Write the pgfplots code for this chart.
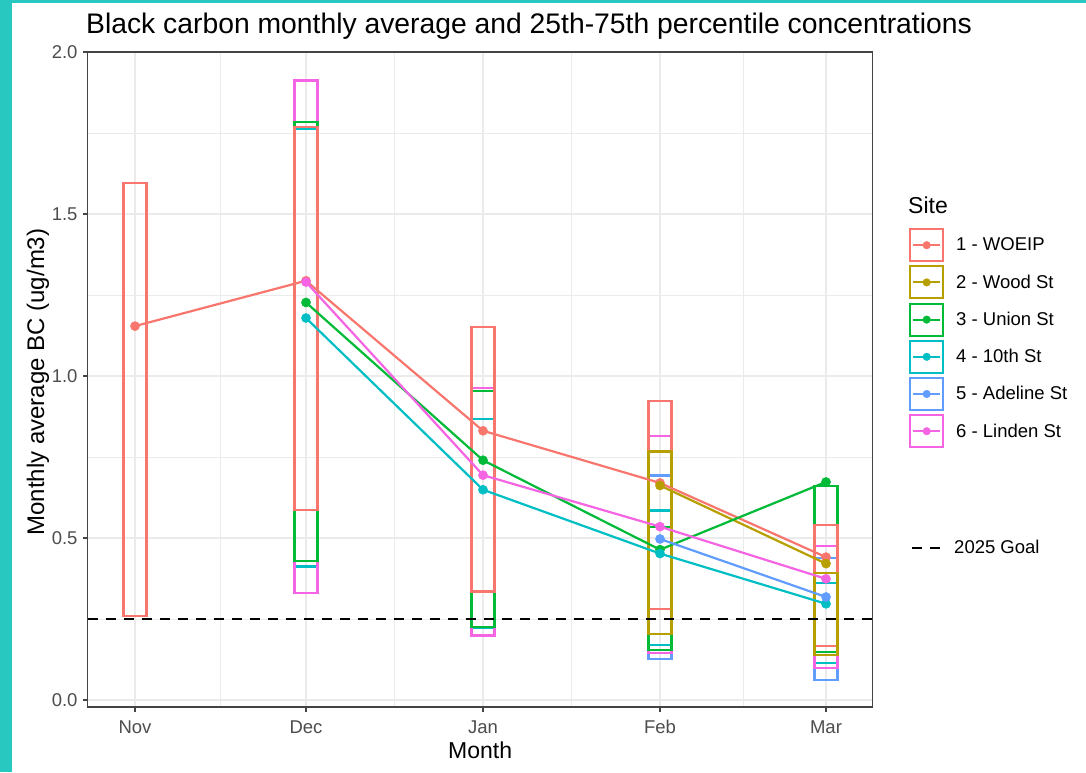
\documentclass[border=0pt]{standalone}
\usepackage{pgfplots}
\pgfplotsset{compat=1.18}
\usepackage{pgfplotstable}
\usepackage{fontspec}
\setmainfont{Liberation Sans}
\definecolor{c1}{HTML}{F8766D}
\definecolor{c2}{HTML}{B79F00}
\definecolor{c3}{HTML}{00BA38}
\definecolor{c4}{HTML}{00BFC4}
\definecolor{c5}{HTML}{619CFF}
\definecolor{c6}{HTML}{F564E3}
\definecolor{teal1}{RGB}{40,200,192}
\definecolor{gridc}{HTML}{EBEBEB}
\definecolor{axc}{HTML}{444444}
\definecolor{tickc}{HTML}{4D4D4D}

% x positions: Nov=0, Dec=171, Jan=348, Feb=525, Mar=691
\pgfplotstableread{
x m lo hi
0   1.154 0.259 1.595
171 1.294 0.587 1.769
348 0.831 0.335 1.151
525 0.670 0.281 0.922
691 0.441 0.166 0.539
}\sone
\pgfplotstableread{
x m lo hi
525 0.662 0.205 0.767
691 0.421 0.140 0.393
}\stwo
\pgfplotstableread{
x m lo hi
171 1.227 0.429 1.785
348 0.740 0.225 0.955
525 0.464 0.155 0.533
691 0.673 0.147 0.660
}\sthree
\pgfplotstableread{
x m lo hi
171 1.179 0.412 1.763
348 0.649 0.222 0.867
525 0.452 0.171 0.585
691 0.297 0.114 0.361
}\sfour
\pgfplotstableread{
x m lo hi
525 0.497 0.127 0.693
691 0.318 0.063 0.438
}\sfive
\pgfplotstableread{
x m lo hi
171 1.290 0.330 1.912
348 0.694 0.199 0.963
525 0.535 0.145 0.816
691 0.374 0.099 0.474
}\ssix

% box from 25th to 75th percentile, 23 units wide around x
\newcommand{\bx}[4]{%
  \pgfmathsetmacro\bxl{#2-11.5}\pgfmathsetmacro\bxr{#2+11.5}%
  \addplot[#1, line width=2.1pt, line cap=rect, forget plot]
    coordinates {(\bxl,#3) (\bxr,#3) (\bxr,#4) (\bxl,#4) (\bxl,#3)};}

\pgfplotsset{
  sitekey/.style={legend image code/.code={
    \draw[line width=2pt] (0pt,-16pt) rectangle (33pt,16pt);
    \draw[line width=2.1pt] (3pt,0pt) -- (30pt,0pt);
    \fill (16.5pt,0pt) circle (3.8pt);
  }},
  goalkey/.style={legend image code/.code={
    \path[draw=none] (0pt,-8pt) rectangle (33pt,8pt);
    \draw[black, line width=2pt, dash pattern=on 10pt off 8pt] (3pt,0pt) -- (31pt,0pt);
  }},
}

\begin{document}
\begin{tikzpicture}
\fill[teal1] (0,0) rectangle (1086pt,-772pt);
\fill[white] (12pt,-2.5pt) rectangle (1086pt,-772pt);

\begin{axis}[
  at={(87.7pt,-52pt)}, anchor=north west,
  scale only axis, width=785pt, height=655pt,
  xmin=-47.3, xmax=737.7, ymin=-0.0216, ymax=2.0,
  xtick={0,171,348,525,691}, xticklabels={Nov,Dec,Jan,Feb,Mar},
  minor xtick={85.5,259.5,436.5,608},
  ytick={0,0.5,1,1.5,2}, minor ytick={0.25,0.75,1.25,1.75},
  grid=both,
  major grid style={line width=1.3pt, gridc},
  minor grid style={line width=0.7pt, gridc},
  tick align=outside, major tick length=4.5pt, minor tick length=0pt,
  xtick pos=lower, ytick pos=left,
  tick style={line width=1.1pt, axc},
  axis line style={line width=1.1pt, axc},
  /pgf/number format/assume math mode=true,
  y tick label style={/pgf/number format/fixed, /pgf/number format/fixed zerofill, /pgf/number format/precision=1},
  ticklabel style={font=\fontsize{18.5}{20}\selectfont, text=tickc, inner sep=0pt},
  xticklabel style={yshift=-8pt, text height=13.3pt, text depth=0pt},
  yticklabel style={xshift=-5.5pt},
  legend style={at={(1.04624,0.7313)}, anchor=north west, draw=none, fill=none,
    inner sep=0pt, row sep=3.2pt, font=\fontsize{18.5}{20}\selectfont,
    nodes={inner sep=0pt},
    /tikz/every odd column/.append style={column sep=12pt}},
  legend cell align=left,
]
% boxes (25th-75th percentile)
\bx{c4}{171}{0.412}{1.763}
\bx{c4}{348}{0.222}{0.867}
\bx{c4}{525}{0.171}{0.585}
\bx{c4}{691}{0.114}{0.361}
\bx{c5}{525}{0.127}{0.693}
\bx{c5}{691}{0.063}{0.438}
\bx{c6}{171}{0.330}{1.912}
\bx{c6}{348}{0.199}{0.963}
\bx{c6}{525}{0.145}{0.816}
\bx{c6}{691}{0.099}{0.474}
\bx{c3}{171}{0.429}{1.785}
\bx{c3}{348}{0.225}{0.955}
\bx{c3}{525}{0.155}{0.533}
\bx{c3}{691}{0.147}{0.660}
\bx{c1}{0}{0.259}{1.595}
\bx{c1}{171}{0.587}{1.769}
\bx{c1}{348}{0.335}{1.151}
\bx{c1}{525}{0.281}{0.922}
\bx{c1}{691}{0.166}{0.539}
\bx{c2}{525}{0.205}{0.767}
\bx{c2}{691}{0.140}{0.393}
% goal
\addplot[forget plot, black, line width=2pt, dash pattern=on 10pt off 8pt] coordinates {(-47.3,0.25) (737.7,0.25)};
% lines
\addplot[forget plot, c1, line width=2.2pt] table[x=x, y=m] {\sone};
\addplot[forget plot, c2, line width=2.2pt] table[x=x, y=m] {\stwo};
\addplot[forget plot, c3, line width=2.2pt] table[x=x, y=m] {\sthree};
\addplot[forget plot, c4, line width=2.2pt] table[x=x, y=m] {\sfour};
\addplot[forget plot, c5, line width=2.2pt] table[x=x, y=m] {\sfive};
\addplot[forget plot, c6, line width=2.2pt] table[x=x, y=m] {\ssix};
% points
\addplot[forget plot, c1, only marks, mark=*, mark size=4.6pt] table[x=x, y=m] {\sone};
\addplot[forget plot, c2, only marks, mark=*, mark size=4.6pt] table[x=x, y=m] {\stwo};
\addplot[forget plot, c3, only marks, mark=*, mark size=4.6pt] table[x=x, y=m] {\sthree};
\addplot[forget plot, c4, only marks, mark=*, mark size=4.6pt] table[x=x, y=m] {\sfour};
\addplot[forget plot, c5, only marks, mark=*, mark size=4.6pt] table[x=x, y=m] {\sfive};
\addplot[forget plot, c6, only marks, mark=*, mark size=4.6pt] table[x=x, y=m] {\ssix};
% legend
\addlegendimage{sitekey, c1}\addlegendentry{1 - WOEIP}
\addlegendimage{sitekey, c2}\addlegendentry{2 - Wood St}
\addlegendimage{sitekey, c3}\addlegendentry{3 - Union St}
\addlegendimage{sitekey, c4}\addlegendentry{4 - 10th St}
\addlegendimage{sitekey, c5}\addlegendentry{5 - Adeline St}
\addlegendimage{sitekey, c6}\addlegendentry{6 - Linden St}
\end{axis}

\begin{axis}[
  at={(87.7pt,-52pt)}, anchor=north west,
  scale only axis, width=785pt, height=655pt,
  xmin=0, xmax=1, ymin=0, ymax=1, hide axis,
  legend style={at={(1.04624,0.24275)}, anchor=west, draw=none, fill=none,
    inner sep=0pt, font=\fontsize{18.5}{20}\selectfont,
    nodes={inner sep=0pt},
    /tikz/every odd column/.append style={column sep=12pt}},
  legend cell align=left,
]
\addlegendimage{goalkey}\addlegendentry{2025 Goal}
\end{axis}

\node[anchor=base west, inner sep=0pt, font=\fontsize{28.3}{31}\selectfont] at (86pt,-33.3pt)
  {Black carbon monthly average and 25th-75th percentile concentrations};
\node[rotate=90, anchor=base, inner sep=0pt, font=\fontsize{24}{27}\selectfont] at (44pt,-382pt)
  {Monthly average BC (ug/m3)};
\node[anchor=base, inner sep=0pt, font=\fontsize{23}{26}\selectfont] at (480.2pt,-758pt) {Month};
\node[anchor=base west, inner sep=0pt, font=\fontsize{23}{26}\selectfont] at (908pt,-213pt) {Site};
\end{tikzpicture}
\end{document}
